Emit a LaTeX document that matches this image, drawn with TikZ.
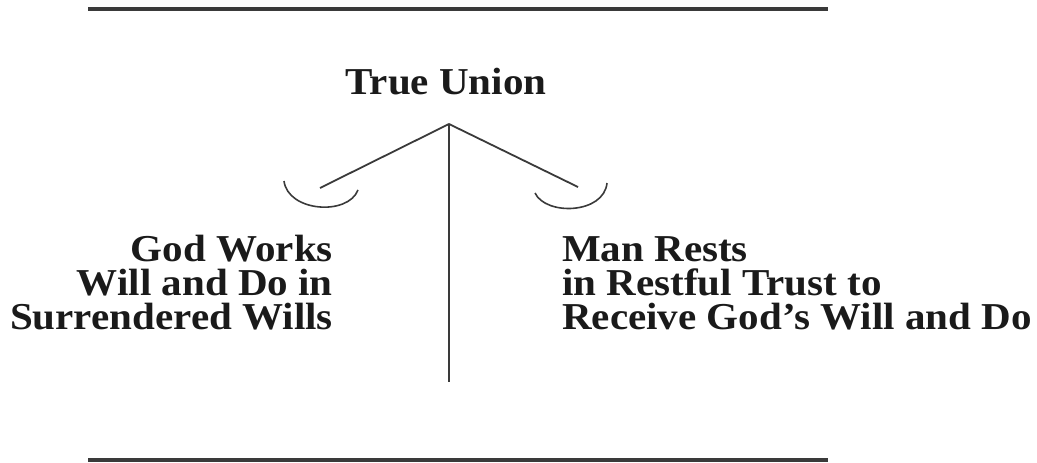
\documentclass[tikz,border=0pt]{standalone}
\usepackage{fontspec}
\setmainfont[FakeStretch=1.08]{Liberation Serif}
\definecolor{ink}{HTML}{1A1A1A}
\definecolor{rule}{HTML}{3A3A3A}
\begin{document}
\begin{tikzpicture}[x=1pt,y=-1pt,
  lbl/.style={inner sep=0pt,text=ink,font=\fontsize{38}{33}\selectfont\bfseries},
  leftlbl/.style={lbl,anchor=base east},
  rightlbl/.style={lbl,anchor=base west},
  hrule/.style={draw=rule,line width=3.2pt},
  stroke/.style={draw=rule,line width=1.8pt},
  cup/.style={draw=rule,line width=1.6pt}]
\useasboundingbox (0,0) rectangle (1037,463);
% rules
\coordinate (t1) at (88,9);
\coordinate (t2) at (828,9);
\coordinate (b1) at (88,460);
\coordinate (b2) at (828,460);
\draw[hrule] (t1) -- (t2);
\draw[hrule] (b1) -- (b2);
% title
\node[lbl,anchor=base] (title) at (446,94) {True Union};
% branches
\coordinate (apex) at (449,124);
\coordinate (stem) at (449,382);
\coordinate (lend) at (320,188);
\coordinate (rend) at (578,187);
\draw[stroke] (apex) -- (stem);
\draw[stroke] (apex) -- (lend);
\draw[stroke] (apex) -- (rend);
% cups
\coordinate (la) at (284,181);
\coordinate (lb) at (358,190);
\coordinate (ra) at (535,193);
\coordinate (rb) at (607,183);
\draw[cup] (la) .. controls (288,212) and (348,216) .. (lb);
\draw[cup] (ra) .. controls (546,216) and (604,214) .. (rb);
% left text
\node[leftlbl] (l1) at (333,261) {God Works};
\node[leftlbl] (l2) at (333,295) {Will and Do in};
\node[leftlbl] (l3) at (333,329) {Surrendered Wills};
% right text
\node[rightlbl] (r1) at (562,261) {Man Rests};
\node[rightlbl] (r2) at (562,295) {in Restful Trust to};
\node[rightlbl] (r3) at (562,329) {Receive God’s Will and Do};
\end{tikzpicture}
\end{document}
